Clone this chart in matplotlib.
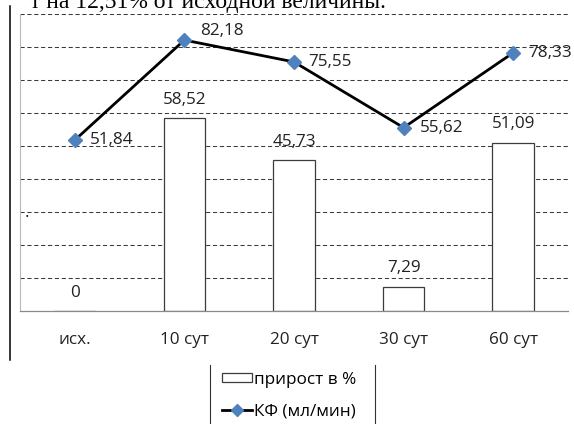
import matplotlib
matplotlib.use("Agg")
import matplotlib.pyplot as plt
from matplotlib.lines import Line2D
from matplotlib.patches import Rectangle

categories = ["исх.", "10 сут", "20 сут", "30 сут", "60 сут"]
growth_pct = [0, 58.52, 45.73, 7.29, 51.09]
gfr = [51.84, 82.18, 75.55, 55.62, 78.33]
growth_labels = ["0", "58,52", "45,73", "7,29", "51,09"]
gfr_labels = ["51,84", "82,18", "75,55", "55,62", "78,33"]
legend_labels = ["прирост в %", "КФ (мл/мин)"]
caption_tail = "т на 12,51% от исходной величины."

W, H = 574, 424
DPI = 100
FONT = "Open Sans"
FS = 12.3

fig = plt.figure(figsize=(W / DPI, H / DPI), dpi=DPI)
fig.patch.set_facecolor("white")

def px(x, y):
    """pixel position (from top-left) -> figure fraction"""
    return x / W, 1 - y / H

# plot area
left, right, top, bottom = 20, 568, 14.3, 311
ax = fig.add_axes([left / W, 1 - bottom / H, (right - left) / W, (bottom - top) / H])
ax.set_xlim(-0.5, len(categories) - 0.5)
ax.set_ylim(0, 90)
ax.set_facecolor("white")

x = list(range(len(categories)))

# dashed horizontal grid
ax.set_yticks(range(10, 91, 10))
ax.yaxis.grid(True, color="#3a3a3a", linewidth=0.75, linestyle=(0, (4, 2.6)), zorder=0)
ax.set_axisbelow(True)
ax.tick_params(axis="y", left=False, labelleft=False)

ax.set_xticks(x)
ax.set_xticklabels(categories, fontfamily=FONT, fontsize=FS, color="#222222")
ax.tick_params(axis="x", length=0, pad=15)

for s in ["top", "right"]:
    ax.spines[s].set_visible(False)
ax.spines["left"].set_color("#b8b8b8")
ax.spines["left"].set_linewidth(0.8)
ax.spines["bottom"].set_color("#8a8a8a")
ax.spines["bottom"].set_linewidth(0.9)

# bars: growth in percent
bars = ax.bar(x, growth_pct, width=0.38, facecolor="white", edgecolor="#3c3c3c",
              linewidth=0.9, zorder=2)
for xi, v, lab in zip(x, growth_pct, growth_labels):
    ax.annotate(lab, (xi, v), xytext=(0, 13.3), textcoords="offset points",
                ha="center", va="center", fontfamily=FONT, fontsize=FS, color="#222222",
                zorder=5)

# line: filtration rate
ax.plot(x, gfr, color="black", linewidth=2.0, marker="D", markersize=7.6,
        markerfacecolor="#4f81bd", markeredgecolor="#4f81bd", zorder=4,
        clip_on=False)
offsets = [(10.8, 0), (11.5, 6.8), (10.5, 0), (11.5, 0), (11, 0)]
for xi, v, lab, off in zip(x, gfr, gfr_labels, offsets):
    ax.annotate(lab, (xi, v), xytext=off, textcoords="offset points",
                ha="left", va="center", fontfamily=FONT, fontsize=FS, color="#222222",
                zorder=5, annotation_clip=False)

# stray period inside the plot area
fig.text(*px(27, 217), ".", fontfamily=FONT, fontsize=FS, color="#222222",
         ha="center", va="baseline")

# legend
handles = [
    Rectangle((0, 0), 1, 1, facecolor="white", edgecolor="#3c3c3c", linewidth=0.9),
    Line2D([], [], color="black", linewidth=2.0, marker="D", markersize=6.5,
           markerfacecolor="#4f81bd", markeredgecolor="#4f81bd"),
]
fig.legend(handles, legend_labels, loc="upper left", bbox_to_anchor=px(221.5, 371.5),
           frameon=False, prop={"family": FONT, "size": FS}, handlelength=1.78,
           handleheight=0.5, handletextpad=0.15, labelspacing=0.95,
           borderpad=0, borderaxespad=0)

# page rules
fig.add_artist(Line2D([9.5 / W, 9.5 / W], [1 - 6 / H, 1 - 360 / H], color="black",
                      linewidth=1.1, transform=fig.transFigure))
for lx in (210, 375):
    fig.add_artist(Line2D([lx / W, lx / W], [1 - 365 / H, 0], color="#333333",
                          linewidth=0.8, transform=fig.transFigure))

# tail of the caption line above the figure (cut by the page edge)
fig.text(*px(386, 8), caption_tail, fontfamily="Liberation Serif", fontsize=17,
         ha="right", va="baseline", color="black")

fig.savefig("out.png", dpi=DPI)
